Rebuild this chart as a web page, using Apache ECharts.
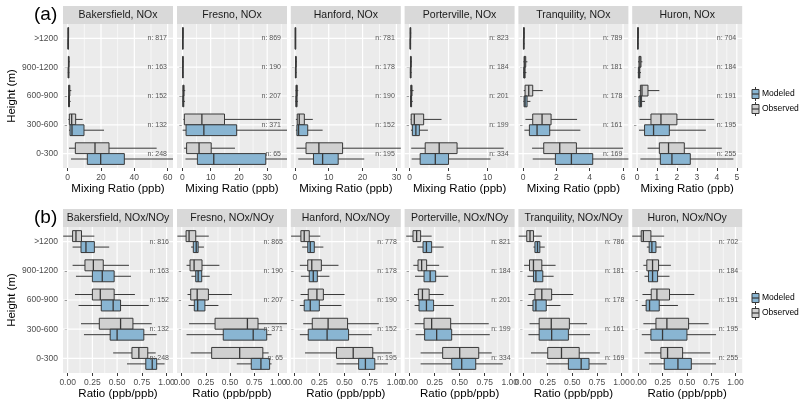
<!DOCTYPE html>
<html><head><meta charset="utf-8">
<script src="https://cdn.jsdelivr.net/npm/echarts@6/dist/echarts.min.js"></script>
<style>html,body{margin:0;padding:0;background:#fff}#c{width:800px;height:402px}</style>
</head><body><div id="c"></div>
<script>
// ---------- data ----------
const heights = ['>1200', '900-1200', '600-900', '300-600', '0-300'];
const stations = ['Bakersfield', 'Fresno', 'Hanford', 'Porterville', 'Tranquility', 'Huron'];
// each row: [whisker low, Q1, median, Q3, whisker high], rows in order of `heights`

// (a) NOx mixing ratio, ppb
const bakersfieldNOxObs = [[0.1,0.2,0.3,0.4,0.7],[0.2,0.4,0.6,0.8,1.2],[0.3,0.6,0.9,1.3,2.2],[0.4,1.0,2.4,4.8,9.0],[0.8,4.6,16.4,24.8,53.4]];
const bakersfieldNOxMod = [[0.05,0.15,0.25,0.35,0.6],[0.1,0.3,0.5,0.7,1.0],[0.2,0.5,0.8,1.1,1.8],[0.8,1.4,2.6,9.8,21.8],[2.0,11.8,19.8,34.0,63.5]];
const fresnoNOxObs = [[0.05,0.1,0.15,0.2,0.3],[0.05,0.1,0.15,0.25,0.4],[0.1,0.2,0.35,0.6,1.0],[0.35,0.7,6.9,14.9,34.8],[0.6,1.5,5.9,10.2,18.6]];
const fresnoNOxMod = [[0.03,0.06,0.1,0.15,0.25],[0.03,0.08,0.12,0.18,0.3],[0.05,0.15,0.3,0.5,0.9],[0.1,1.3,7.6,19.2,37.5],[1.1,5.3,11.1,29.5,37.5]];
const hanfordNOxObs = [[0.05,0.1,0.15,0.2,0.3],[0.1,0.2,0.3,0.4,0.6],[0.2,0.35,0.5,0.7,1.0],[0.3,0.7,1.3,2.8,5.3],[0.5,3.3,7.1,14.1,31.5]];
const hanfordNOxMod = [[0.05,0.1,0.15,0.2,0.3],[0.1,0.15,0.25,0.35,0.5],[0.15,0.3,0.45,0.65,0.9],[0.3,0.6,1.1,3.8,8.2],[1.0,5.5,8.2,12.8,20.5]];
const portervilleNOxObs = [[0.03,0.06,0.1,0.14,0.2],[0.05,0.1,0.15,0.2,0.3],[0.08,0.15,0.22,0.3,0.5],[0.13,0.2,0.6,1.8,4.1],[0.2,2.0,3.8,6.1,12.1]];
const portervilleNOxMod = [[0.03,0.05,0.08,0.12,0.18],[0.04,0.08,0.12,0.17,0.25],[0.06,0.12,0.18,0.25,0.4],[0.17,0.35,0.8,1.25,2.35],[0.26,1.35,3.3,5.0,10.4]];
const tranquilityNOxObs = [[0.01,0.03,0.05,0.07,0.1],[0.02,0.06,0.1,0.16,0.26],[0.04,0.12,0.34,0.58,1.18],[0.14,0.58,1.14,1.68,3.24],[0.54,1.24,2.2,3.2,6.0]];
const tranquilityNOxMod = [[0.01,0.02,0.04,0.06,0.09],[0.01,0.04,0.08,0.12,0.2],[0.02,0.06,0.12,0.24,0.44],[0.08,0.38,0.84,1.6,3.44],[0.58,1.94,2.9,4.18,6.4]];
const huronNOxObs = [[0.02,0.03,0.05,0.07,0.09],[0.05,0.1,0.15,0.2,0.27],[0.08,0.17,0.25,0.55,1.12],[0.13,0.7,1.2,2.0,3.87],[0.53,1.12,1.58,2.37,4.25]];
const huronNOxMod = [[0.01,0.03,0.04,0.06,0.08],[0.04,0.07,0.11,0.14,0.2],[0.07,0.1,0.17,0.23,0.4],[0.1,0.38,0.83,1.62,3.45],[0.17,1.17,1.75,2.67,4.83]];

// (b) NOx/NOy ratio, ppb/ppb
const bakersfieldRatioObs = [[-0.045,0.05,0.084,0.14,0.27],[0.05,0.175,0.26,0.36,0.62],[0.074,0.25,0.33,0.47,0.68],[0.135,0.32,0.535,0.66,0.85],[0.46,0.65,0.72,0.81,0.89]];
const bakersfieldRatioMod = [[0.05,0.135,0.185,0.27,0.42],[0.084,0.25,0.35,0.47,0.64],[0.11,0.34,0.46,0.535,0.82],[0.165,0.43,0.5,0.77,0.9],[0.6,0.79,0.855,0.9,0.98]];
const fresnoRatioObs = [[-0.045,0.045,0.076,0.145,0.28],[0.05,0.086,0.128,0.21,0.39],[0.06,0.093,0.16,0.276,0.52],[0.076,0.345,0.68,0.79,1.09],[0.093,0.31,0.6,0.84,0.9]];
const fresnoRatioMod = [[0.097,0.12,0.15,0.17,0.23],[0.1,0.145,0.17,0.207,0.29],[0.07,0.13,0.165,0.24,0.38],[0.05,0.43,0.74,0.88,0.93],[0.57,0.72,0.82,0.91,0.93]];
const hanfordRatioObs = [[-0.03,0.067,0.1,0.15,0.26],[0.057,0.135,0.175,0.27,0.44],[0.064,0.14,0.226,0.29,0.5],[0.09,0.18,0.337,0.53,0.84],[0.108,0.42,0.586,0.78,0.97]];
const hanfordRatioMod = [[0.08,0.135,0.16,0.2,0.29],[0.067,0.15,0.19,0.23,0.35],[0.057,0.1,0.16,0.25,0.47],[0.057,0.14,0.327,0.54,0.77],[0.42,0.64,0.707,0.8,0.93]];
const portervilleRatioObs = [[-0.034,0.034,0.07,0.11,0.22],[0.037,0.084,0.12,0.17,0.295],[0.044,0.087,0.128,0.195,0.34],[0.05,0.144,0.22,0.41,0.79],[0.11,0.33,0.5,0.69,0.82]];
const portervilleRatioMod = [[0.077,0.134,0.168,0.22,0.34],[0.054,0.144,0.205,0.26,0.386],[0.05,0.094,0.168,0.24,0.44],[0.06,0.15,0.27,0.42,0.8],[0.11,0.42,0.52,0.66,0.93]];
const tranquilityRatioObs = [[-0.045,0.037,0.07,0.105,0.19],[0.01,0.065,0.105,0.19,0.33],[0.054,0.12,0.19,0.29,0.51],[0.065,0.163,0.286,0.47,0.65],[0.08,0.25,0.39,0.57,0.78]];
const tranquilityRatioMod = [[0.105,0.12,0.146,0.17,0.22],[0.044,0.105,0.13,0.2,0.31],[0.044,0.1,0.13,0.235,0.38],[0.054,0.163,0.29,0.46,0.68],[0.235,0.46,0.59,0.67,0.85]];
const huronRatioObs = [[-0.065,0.028,0.05,0.128,0.265],[0.05,0.086,0.145,0.207,0.334],[0.041,0.131,0.19,0.32,0.576],[0.05,0.18,0.293,0.517,0.724],[0.062,0.231,0.3,0.455,0.74]];
const huronRatioMod = [[0.086,0.11,0.138,0.18,0.234],[0.062,0.103,0.145,0.197,0.32],[0.034,0.079,0.114,0.214,0.407],[0.034,0.128,0.248,0.5,0.8],[0.11,0.266,0.407,0.545,0.8]];

// sample counts, order of `heights`
const noxCounts = [[817,163,152,132,248],[869,190,207,371,65],[781,178,190,152,195],[823,184,201,199,334],[789,181,178,161,169],[704,184,191,195,255]];
const ratioCounts = [[816,163,152,132,248],[865,190,207,371,65],[778,178,190,152,195],[821,184,201,199,334],[786,181,178,161,169],[702,184,191,195,255]];

// axis extents and tick labels per panel
const noxXMin = [-2.8, -1.9, -1.2, -0.65, -0.28, -0.24];
const noxXMax = [63.2, 37.0, 31.3, 13.5, 6.32, 5.27];
const noxTicks = [[0,20,40,60],[0,10,20,30],[0,10,20,30],[0,5,10],[0,2,4,6],[0,1,2,3,4,5]];
const ratioXMin = [-0.047, -0.049, -0.033, -0.05, -0.048, -0.065];
const ratioXMax = [1.065, 1.09, 1.058, 1.048, 1.07, 1.07];
const ratioTicks = [0, 0.25, 0.5, 0.75, 1];

// ---------- build ----------
const FONT = '"Liberation Sans", Arial, Helvetica, sans-serif';
const OBS_FILL = '#D0D0D0', MOD_FILL = '#89B5D2', EDGE = '#383838';
const colLeft = [63, 177, 290.8, 404.6, 518.4, 632.2];
const panelW = 110;

const rows = [
  { label: '(a)', suffix: 'NOx', top: 24, height: 144, xName: 'Mixing Ratio (ppb)',
    obs: [bakersfieldNOxObs, fresnoNOxObs, hanfordNOxObs, portervilleNOxObs, tranquilityNOxObs, huronNOxObs],
    mod: [bakersfieldNOxMod, fresnoNOxMod, hanfordNOxMod, portervilleNOxMod, tranquilityNOxMod, huronNOxMod],
    n: noxCounts, xmin: noxXMin, xmax: noxXMax, ticks: noxTicks, digits: 0, nPad: 6, legendY: 94 },
  { label: '(b)', suffix: 'NOx/NOy', top: 227, height: 146, xName: 'Ratio (ppb/ppb)',
    obs: [bakersfieldRatioObs, fresnoRatioObs, hanfordRatioObs, portervilleRatioObs, tranquilityRatioObs, huronRatioObs],
    mod: [bakersfieldRatioMod, fresnoRatioMod, hanfordRatioMod, portervilleRatioMod, tranquilityRatioMod, huronRatioMod],
    n: ratioCounts, xmin: ratioXMin, xmax: ratioXMax, ticks: stations.map(() => ratioTicks), digits: 2, nPad: 4, legendY: 298 }
];

function gridRenderer(ticks, xmin, xmax) {
  return function (params, api) {
    const cs = params.coordSys;
    const kids = [];
    const step = ticks[1] - ticks[0];
    for (let v = ticks[0] - step / 2; v <= xmax; v += step) {
      if (v < xmin) continue;
      const x = api.coord([v, 0])[0];
      kids.push({ type: 'line', shape: { x1: x, y1: cs.y, x2: x, y2: cs.y + cs.height }, style: { stroke: '#FFFFFF', lineWidth: 0.6 } });
    }
    ticks.forEach(v => {
      const x = api.coord([v, 0])[0];
      kids.push({ type: 'line', shape: { x1: x, y1: cs.y, x2: x, y2: cs.y + cs.height }, style: { stroke: '#FFFFFF', lineWidth: 1.2 } });
    });
    heights.forEach((h, i) => {
      const y = api.coord([xmin, i])[1];
      kids.push({ type: 'line', shape: { x1: cs.x, y1: y, x2: cs.x + cs.width, y2: y }, style: { stroke: '#FFFFFF', lineWidth: 1.2 } });
    });
    return { type: 'group', children: kids };
  };
}

function boxRenderer(side, fill) {
  return function (params, api) {
    const cs = params.coordSys;
    const cat = api.value(0);
    const band = api.size([0, 1])[1];
    const h = band * 0.375;
    const cy = api.coord([0, cat])[1] + side * h / 2;
    const clampX = x => Math.max(cs.x, Math.min(cs.x + cs.width, x));
    const xs = [1, 2, 3, 4, 5].map(d => clampX(api.coord([api.value(d), cat])[0]));
    return { type: 'group', children: [
      { type: 'line', shape: { x1: xs[0], y1: cy, x2: xs[4], y2: cy }, style: { stroke: EDGE, lineWidth: 1 } },
      { type: 'rect', shape: { x: xs[1], y: cy - h / 2, width: Math.max(xs[3] - xs[1], 0.6), height: h }, style: { fill: fill, stroke: EDGE, lineWidth: 1 } },
      { type: 'line', shape: { x1: xs[2], y1: cy - h / 2, x2: xs[2], y2: cy + h / 2 }, style: { stroke: EDGE, lineWidth: 1.3 } }
    ] };
  };
}

function countRenderer(pad) {
  return function (params, api) {
    const cs = params.coordSys;
    const y = api.coord([0, api.value(0)])[1];
    return { type: 'text', x: cs.x + cs.width - pad, y: y,
      style: { text: 'n: ' + api.value(1), align: 'right', verticalAlign: 'middle', fontSize: 7, fill: '#555555', fontFamily: FONT } };
  };
}

const grid = [], xAxis = [], yAxis = [], series = [], graphic = [];

rows.forEach((row, r) => {
  stations.forEach((st, c) => {
    const k = r * 6 + c;
    grid.push({ left: colLeft[c], top: row.top, width: panelW, height: row.height, show: true,
      backgroundColor: '#EBEBEB', borderWidth: 0, containLabel: false });
    const ticks = row.ticks[c];
    xAxis.push({ type: 'value', gridIndex: k, min: row.xmin[c], max: row.xmax[c],
      axisLine: { show: false }, splitLine: { show: false },
      axisTick: { show: true, length: 3, lineStyle: { color: EDGE, width: 1 }, customValues: ticks },
      axisLabel: { customValues: ticks, fontSize: 8.5, color: '#4D4D4D', margin: 5, fontFamily: FONT,
        formatter: v => Number(v).toFixed(row.digits) },
      name: row.xName, nameLocation: 'middle', nameGap: 15,
      nameTextStyle: { fontSize: 11.5, color: '#000000', fontFamily: FONT } });
    yAxis.push({ type: 'category', gridIndex: k, data: heights, inverse: true,
      axisLine: { show: false }, splitLine: { show: false },
      axisTick: { show: true, alignWithLabel: true, length: 3, lineStyle: { color: EDGE, width: 1 } },
      axisLabel: { show: c === 0, fontSize: 8.5, color: '#4D4D4D', margin: 5, fontFamily: FONT },
      name: c === 0 ? 'Height (m)' : '', nameLocation: 'middle', nameGap: 44, nameRotate: 90,
      nameTextStyle: { fontSize: 11.5, color: '#000000', fontFamily: FONT } });

    series.push({ type: 'custom', name: 'grid', xAxisIndex: k, yAxisIndex: k, z: 1, silent: true,
      data: [[0, 0]], encode: { x: 1, y: 0 }, renderItem: gridRenderer(ticks, row.xmin[c], row.xmax[c]) });
    series.push({ type: 'custom', name: 'Observed', xAxisIndex: k, yAxisIndex: k, z: 3, silent: true,
      data: row.obs[c].map((d, i) => [i].concat(d)), encode: { y: 0, x: [1, 2, 3, 4, 5] },
      renderItem: boxRenderer(-1, OBS_FILL) });
    series.push({ type: 'custom', name: 'Modeled', xAxisIndex: k, yAxisIndex: k, z: 3, silent: true,
      data: row.mod[c].map((d, i) => [i].concat(d)), encode: { y: 0, x: [1, 2, 3, 4, 5] },
      renderItem: boxRenderer(1, MOD_FILL) });
    series.push({ type: 'custom', name: 'counts', xAxisIndex: k, yAxisIndex: k, z: 4, silent: true,
      data: row.n[c].map((n, i) => [i, n]), encode: { y: 0, x: 1 },
      renderItem: countRenderer(row.nPad) });

    // facet strip
    graphic.push({ type: 'rect', left: colLeft[c], top: row.top - 18, shape: { width: panelW, height: 18 },
      style: { fill: '#D9D9D9' }, silent: true });
    graphic.push({ type: 'text', x: colLeft[c] + panelW / 2, y: row.top - 9,
      style: { text: st + ', ' + row.suffix, align: 'center', verticalAlign: 'middle', fontSize: 10.5, fill: '#1A1A1A', fontFamily: FONT }, silent: true });
  });

  // panel tag
  graphic.push({ type: 'text', x: 34, y: row.top - 9,
    style: { text: row.label, align: 'left', verticalAlign: 'middle', fontSize: 19, fill: '#000000', fontFamily: FONT }, silent: true });

  // legend keys
  [['Modeled', MOD_FILL, 0], ['Observed', OBS_FILL, 15]].forEach(([txt, fill, dy]) => {
    const cy = row.legendY + dy;
    graphic.push({ type: 'line', shape: { x1: 755.5, y1: cy - 7, x2: 755.5, y2: cy + 7 }, style: { stroke: EDGE, lineWidth: 1 }, silent: true });
    graphic.push({ type: 'rect', shape: { x: 752, y: cy - 4.5, width: 7, height: 9 }, style: { fill: fill, stroke: EDGE, lineWidth: 1 }, silent: true });
    graphic.push({ type: 'line', shape: { x1: 752, y1: cy, x2: 759, y2: cy }, style: { stroke: EDGE, lineWidth: 1.2 }, silent: true });
    graphic.push({ type: 'text', x: 762, y: cy,
      style: { text: txt, align: 'left', verticalAlign: 'middle', fontSize: 8.5, fill: '#000000', fontFamily: FONT }, silent: true });
  });
});

const chart = echarts.init(document.getElementById('c'), null, { renderer: 'canvas' });
chart.setOption({
  animation: false,
  backgroundColor: '#FFFFFF',
  textStyle: { fontFamily: FONT },
  grid, xAxis, yAxis, series, graphic
});
</script></body></html>
